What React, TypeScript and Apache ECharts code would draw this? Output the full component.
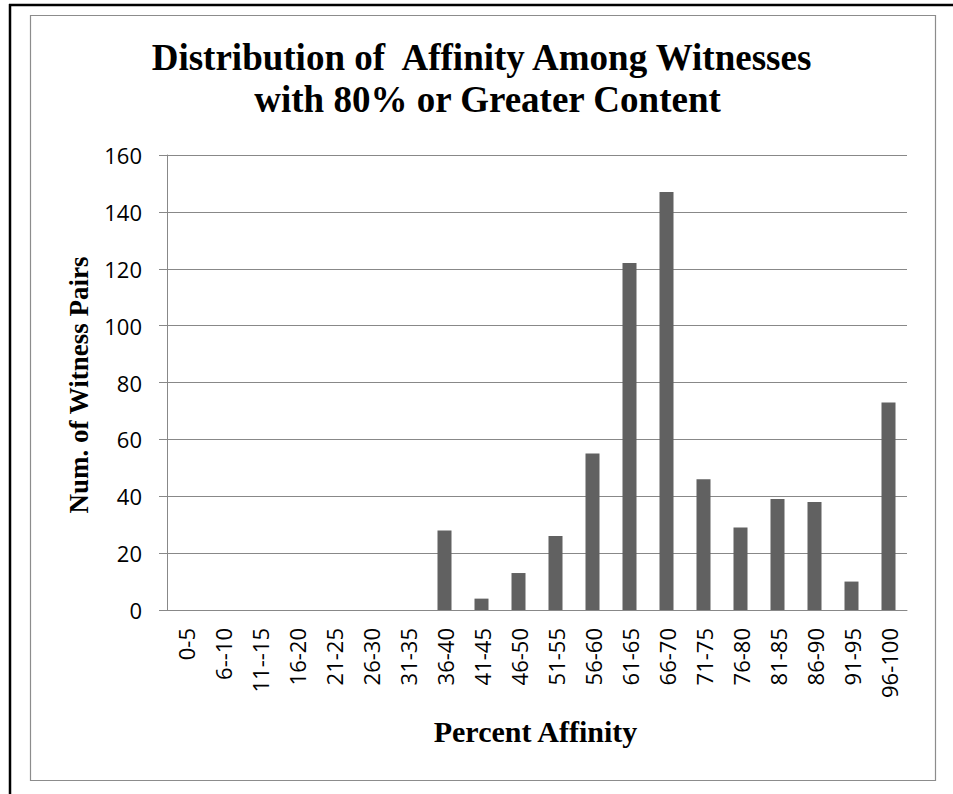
import React, { useEffect, useRef } from "react";
import * as echarts from "echarts";

const categories = [
  "0-5", "6--10", "11--15", "16-20", "21-25", "26-30", "31-35", "36-40",
  "41-45", "46-50", "51-55", "56-60", "61-65", "66-70", "71-75", "76-80",
  "81-85", "86-90", "91-95", "96-100",
];
const pairCounts = [0, 0, 0, 0, 0, 0, 0, 28, 4, 13, 26, 55, 122, 147, 46, 29, 39, 38, 10, 73];
const titleLines = ["Distribution of  Affinity Among Witnesses", "with 80% or Greater Content"];
const xAxisTitle = "Percent Affinity";
const yAxisTitle = "Num. of Witness Pairs";
const yMin = 0;
const yMax = 160;
const yStep = 20;

const serif = '"Liberation Serif", "Times New Roman", serif';
const sans = '"Open Sans", "Noto Sans", sans-serif';

export default function App() {
  const ref = useRef<HTMLDivElement>(null);
  useEffect(() => {
    if (!ref.current) return;
    const chart = echarts.init(ref.current, undefined, { renderer: "svg" });
    chart.setOption({
      animation: false,
      backgroundColor: "#ffffff",
      grid: { left: 167, right: 46, top: 155, bottom: 184, containLabel: false },
      xAxis: {
        type: "category",
        data: categories,
        axisLine: { show: true, lineStyle: { color: "#888888", width: 1 } },
        axisTick: { show: false },
        axisLabel: {
          rotate: 90,
          margin: 18,
          interval: 0,
          color: "#000000",
          fontFamily: sans,
          fontSize: 22,
        },
        splitLine: { show: false },
      },
      yAxis: {
        type: "value",
        min: yMin,
        max: yMax,
        interval: yStep,
        axisLine: { show: true, lineStyle: { color: "#888888", width: 1 } },
        axisTick: { show: true, length: 8, lineStyle: { color: "#888888", width: 1 } },
        axisLabel: { margin: 25, color: "#000000", fontFamily: sans, fontSize: 22 },
        splitLine: { show: true, lineStyle: { color: "#888888", width: 1 } },
      },
      series: [
        {
          type: "bar",
          data: pairCounts,
          barWidth: 14,
          itemStyle: { color: "#616161" },
        },
      ],
      graphic: [
        {
          type: "line",
          shape: { x1: 10, y1: 4, x2: 10, y2: 794 },
          style: { stroke: "#000000", lineWidth: 2.5 },
        },
        {
          type: "line",
          shape: { x1: 9, y1: 5, x2: 953, y2: 5 },
          style: { stroke: "#000000", lineWidth: 2.5 },
        },
        {
          type: "rect",
          shape: { x: 30.5, y: 15.5, width: 905, height: 765 },
          style: { fill: "none", stroke: "#8c8c8c", lineWidth: 1.2 },
          z: -1,
        },
        {
          type: "text",
          x: 481.5,
          y: 57.5,
          style: {
            text: titleLines[0],
            fontFamily: serif,
            fontWeight: "bold",
            fontSize: 37,
            fill: "#000000",
            align: "center",
            verticalAlign: "middle",
          },
        },
        {
          type: "text",
          x: 487.5,
          y: 99.5,
          style: {
            text: titleLines[1],
            fontFamily: serif,
            fontWeight: "bold",
            fontSize: 37,
            fill: "#000000",
            align: "center",
            verticalAlign: "middle",
          },
        },
        {
          type: "text",
          x: 535.5,
          y: 731,
          style: {
            text: xAxisTitle,
            fontFamily: serif,
            fontWeight: "bold",
            fontSize: 30,
            fill: "#000000",
            align: "center",
            verticalAlign: "middle",
          },
        },
        {
          type: "text",
          x: 79,
          y: 385,
          rotation: Math.PI / 2,
          style: {
            text: yAxisTitle,
            fontFamily: serif,
            fontWeight: "bold",
            fontSize: 27,
            fill: "#000000",
            align: "center",
            verticalAlign: "middle",
          },
        },
      ],
    });
    return () => chart.dispose();
  }, []);
  return (
    <div
      ref={ref}
      style={{ position: "fixed", left: 0, top: 0, width: 953, height: 794, background: "#fff" }}
    />
  );
}
